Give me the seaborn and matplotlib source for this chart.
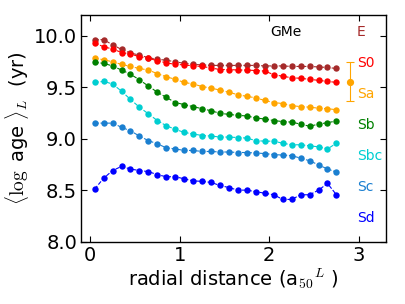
import matplotlib
matplotlib.use("Agg")
import matplotlib.pyplot as plt
import numpy as np
import pandas as pd
import seaborn as sns

# ── Data ──────────────────────────────────────────────────────────────────────

radius = [0.05, 0.15, 0.25, 0.35, 0.45, 0.55, 0.65, 0.75, 0.85, 0.95,
          1.05, 1.15, 1.25, 1.35, 1.45, 1.55, 1.65, 1.75, 1.85, 1.95,
          2.05, 2.15, 2.25, 2.35, 2.45, 2.55, 2.65, 2.75]

types = ["E", "S0", "Sa", "Sb", "Sbc", "Sc", "Sd"]

age_E = [9.96, 9.96, 9.91, 9.865, 9.83, 9.81, 9.785, 9.77, 9.76, 9.745,
         9.73, 9.72, 9.715, 9.71, 9.71, 9.71, 9.71, 9.71, 9.71, 9.705,
         9.705, 9.705, 9.70, 9.70, 9.70, 9.695, 9.69, 9.68]
age_S0 = [9.93, 9.89, 9.87, 9.835, 9.82, 9.795, 9.78, 9.755, 9.735, 9.72,
          9.715, 9.705, 9.70, 9.685, 9.67, 9.67, 9.665, 9.665, 9.66, 9.655,
          9.62, 9.605, 9.59, 9.585, 9.575, 9.565, 9.555, 9.545]
age_Sa = [9.78, 9.765, 9.745, 9.72, 9.70, 9.68, 9.665, 9.63, 9.60, 9.575,
          9.545, 9.53, 9.505, 9.49, 9.47, 9.45, 9.425, 9.41, 9.395, 9.37,
          9.35, 9.34, 9.32, 9.31, 9.305, 9.295, 9.29, 9.28]
age_Sb = [9.74, 9.73, 9.705, 9.665, 9.625, 9.57, 9.51, 9.45, 9.40, 9.35,
          9.33, 9.31, 9.29, 9.27, 9.245, 9.235, 9.225, 9.22, 9.20, 9.19,
          9.175, 9.165, 9.16, 9.14, 9.12, 9.14, 9.155, 9.17]
age_Sbc = [9.545, 9.555, 9.53, 9.46, 9.38, 9.305, 9.24, 9.175, 9.125, 9.09,
           9.06, 9.045, 9.03, 9.025, 9.015, 9.015, 9.01, 9.005, 8.98, 8.975,
           8.975, 8.955, 8.94, 8.94, 8.93, 8.92, 8.90, 8.955]
age_Sc = [9.15, 9.15, 9.15, 9.11, 9.075, 9.025, 8.98, 8.95, 8.91, 8.90,
          8.885, 8.885, 8.875, 8.875, 8.87, 8.87, 8.865, 8.865, 8.86, 8.855,
          8.845, 8.84, 8.835, 8.81, 8.785, 8.745, 8.705, 8.675]
age_Sd = [8.51, 8.615, 8.69, 8.73, 8.705, 8.69, 8.68, 8.65, 8.63, 8.63,
          8.61, 8.59, 8.585, 8.575, 8.545, 8.525, 8.50, 8.50, 8.485, 8.47,
          8.455, 8.41, 8.41, 8.455, 8.455, 8.50, 8.565, 8.455]

colors = ["#a52a2a", "#ff0000", "#ffa500", "#008000", "#00ced1", "#1a7fd0", "#0000ff"]

# typical error bar drawn next to Sa
err_x, err_y, err_dy = 2.9, 9.55, 0.19

df = pd.DataFrame({
    "radius": radius * len(types),
    "age": age_E + age_S0 + age_Sa + age_Sb + age_Sbc + age_Sc + age_Sd,
    "type": [t for t in types for _ in radius],
})

# ── Plot ──────────────────────────────────────────────────────────────────────

sns.set_style("ticks")
plt.rcParams.update({
    "mathtext.fontset": "cm",
    "font.family": ["DejaVu Sans"],
    "text.color": "black",
    "axes.labelcolor": "black",
    "xtick.color": "black",
    "ytick.color": "black",
    "axes.edgecolor": "black",
})

fig = plt.figure(figsize=(4.06, 3.04), dpi=100)
ax = fig.add_axes([0.2, 0.205, 0.75, 0.746])

sns.lineplot(data=df, x="radius", y="age", hue="type", hue_order=types,
             palette=colors, marker="o", markersize=4.6, markeredgewidth=0,
             linestyle="--", linewidth=0.8, legend=False, ax=ax)

ax.errorbar(err_x, err_y, yerr=err_dy, fmt="o", color="#ffa500",
            markersize=4.2, elinewidth=0.8, capsize=3, capthick=0.8)

for k, (t, c) in enumerate(zip(types, colors)):
    ax.text(2.98, 10.03 - 0.3 * k, t, color=c, fontsize=10,
            ha="left", va="center")
ax.text(2.18, 10.03, "GMe", color="black", fontsize=10, ha="center", va="center")

ax.set_xlim(-0.1, 3.3)
ax.set_ylim(8.0, 10.2)
ax.set_xticks([0, 1, 2, 3])
ax.set_yticks([8.0, 8.5, 9.0, 9.5, 10.0])
ax.set_yticklabels(["8.0", "8.5", "9.0", "9.5", "10.0"])
ax.tick_params(direction="in", top=True, right=True, length=4,
               labelsize=14, pad=3, colors="black")
for s in ax.spines.values():
    s.set_linewidth(1.0)
    s.set_color("black")

ax.set_xlabel(r"radial distance (a$_{50}$$^{L}$ )", fontsize=14, labelpad=1)
ax.set_ylabel(r"$\langle \log$ age $\rangle_{L}$  (yr)", fontsize=14, labelpad=2)

fig.savefig("out.png", dpi=100)
plt.close("all")
